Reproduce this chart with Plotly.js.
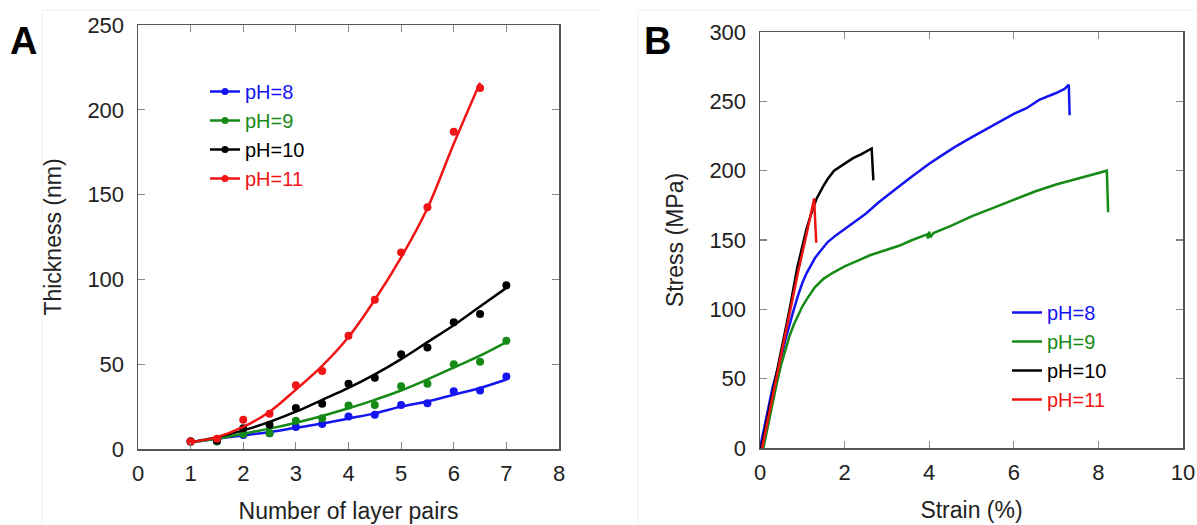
<!DOCTYPE html>
<html>
<head>
<meta charset="utf-8">
<script src="https://cdn.plot.ly/plotly-3.0.1.min.js"></script>
<style>html,body{margin:0;padding:0;background:#fff}#chart{width:1197px;height:525px}</style>
</head>
<body>
<div id="chart"></div>
<script>
// ---------- Panel A: thickness vs number of layer pairs ----------
const layerPairs = [1, 1.5, 2, 2.5, 3, 3.5, 4, 4.5, 5, 5.5, 6, 6.5, 7];
const thickPH8  = [4.4, 4.6, 8.3, 9.3, 13, 14.7, 19.2, 20.2, 26, 27, 34, 34.5, 42.8];
const thickPH9  = [4.4, 4.4, 8.9, 9.3, 16.6, 18.2, 25.6, 26, 37, 38.4, 50, 51.5, 63.8];
const thickPH10 = [4.4, 5, 12.3, 14.3, 24.2, 26.7, 38.4, 42, 55.9, 59.8, 74.7, 79.6, 96.5];
const layerPairsPH11 = [1, 1.5, 2, 2.5, 3, 3.5, 4, 4.5, 5, 5.5, 6, 6.5];
const thickPH11 = [4.4, 6, 17.2, 20.8, 37.6, 46, 66.8, 88, 115.9, 142.6, 187, 212.8];

// fitted curves
const fitX = [1, 1.5, 2, 2.5, 3, 3.5, 4, 4.5, 5, 5.5, 6, 6.5, 7];
const fitPH8  = [4, 6, 8, 10, 12.5, 15, 18, 21, 25, 28, 32, 36, 41];
const fitPH9  = [4, 6, 9, 12, 15.5, 19.5, 24, 29, 34.5, 41, 48, 55, 63];
const fitPH10 = [4, 7, 11, 16, 22, 29, 36, 44, 53, 63, 73, 84, 95];
const fitXPH11 = [1, 1.5, 2, 2.5, 3, 3.5, 4, 4.5, 5, 5.5, 6, 6.5];
const fitPH11 = [4, 7, 13, 22, 35, 49, 66, 88, 113, 142, 180, 216];

// ---------- Panel B: stress-strain ----------
const strainPH8 = [0, 0.1, 0.2, 0.3, 0.4, 0.5, 0.6, 0.7, 0.8, 0.9, 1.0, 1.1, 1.2, 1.3, 1.4, 1.5, 1.6, 1.8, 2.0, 2.2, 2.5, 2.8, 3.0, 3.3, 3.6, 4.0, 4.3, 4.6, 5.0, 5.3, 5.6, 6.0, 6.3, 6.6, 7.0, 7.2, 7.3, 7.32];
const stressPH8 = [0, 15, 30, 44, 55, 65, 78, 90, 100, 110, 119, 126, 132, 137, 141, 145, 148.5, 153.5, 158, 162, 169, 177, 182, 189, 196, 205, 211, 217, 224, 229, 234, 241, 245, 251, 256, 259, 262, 240];
const strainPH9 = [0.08, 0.2, 0.3, 0.4, 0.5, 0.6, 0.7, 0.8, 0.9, 1.0, 1.1, 1.2, 1.3, 1.4, 1.5, 1.7, 2.0, 2.3, 2.6, 3.0, 3.3, 3.6, 3.95, 3.97, 4.0, 4.03, 4.1, 4.5, 5.0, 5.5, 6.0, 6.5, 7.0, 7.5, 8.0, 8.2, 8.23];
const stressPH9 = [0, 18, 33, 47, 60, 71, 81, 89, 96, 102, 107, 112, 116, 119, 122, 126, 131, 135, 139, 143, 146, 150, 154, 151, 156, 152, 155, 160, 167, 173, 179, 185, 190, 194, 198, 200, 170];
const strainPH10 = [0.03, 0.3, 0.5, 0.7, 0.88, 1.0, 1.1, 1.2, 1.3, 1.34, 1.5, 1.6, 1.75, 2.0, 2.2, 2.4, 2.64, 2.68];
const stressPH10 = [0, 40, 70, 100, 130, 146, 158, 168, 176, 180, 189, 194, 200, 205, 209, 212, 216, 193];
const strainPH11 = [0.05, 0.3, 0.5, 0.7, 0.9, 1.1, 1.28, 1.31, 1.33];
const stressPH11 = [0, 38, 68, 97, 127, 154, 180, 160, 148];

const labels = ['pH=8', 'pH=9', 'pH=10', 'pH=11'];
const colors = ['#1414f0', '#168a16', '#000000', '#f01414'];

const pointsX = [layerPairs, layerPairs, layerPairs, layerPairsPH11];
const pointsY = [thickPH8, thickPH9, thickPH10, thickPH11];
const fitsX = [fitX, fitX, fitX, fitXPH11];
const fitsY = [fitPH8, fitPH9, fitPH10, fitPH11];
const strains = [strainPH8, strainPH9, strainPH10, strainPH11];
const stresses = [stressPH8, stressPH9, stressPH10, stressPH11];

const traces = [];
for (let i = 0; i < 4; i++) {
  traces.push({x: fitsX[i], y: fitsY[i], type: 'scatter', mode: 'lines',
    line: {color: colors[i], width: 2.5, shape: 'spline', smoothing: 1},
    xaxis: 'x', yaxis: 'y', showlegend: false, hoverinfo: 'skip'});
  traces.push({x: pointsX[i], y: pointsY[i], type: 'scatter', mode: 'markers',
    marker: {color: colors[i], size: 8},
    xaxis: 'x', yaxis: 'y', showlegend: false});
}
for (let i = 0; i < 4; i++) {
  traces.push({x: [null], y: [null], type: 'scatter', mode: 'lines+markers',
    name: '<span style="color:' + colors[i] + '">' + labels[i] + '</span>',
    line: {color: colors[i], width: 2.5}, marker: {color: colors[i], size: 7},
    xaxis: 'x', yaxis: 'y', legend: 'legend', showlegend: true});
}
for (let i = 0; i < 4; i++) {
  traces.push({x: strains[i], y: stresses[i], type: 'scatter', mode: 'lines',
    name: '<span style="color:' + colors[i] + '">' + labels[i] + '</span>',
    line: {color: colors[i], width: 2.5},
    xaxis: 'x2', yaxis: 'y2', legend: 'legend2', showlegend: true});
}

const W = 1197, H = 525;
const px = v => v / W, py = v => (H - v) / H;
const fontFam = '"Liberation Sans", Arial, Helvetica, sans-serif';
const titleFont = {family: fontFam, size: 23, color: '#222'};

const axisCommon = {
  showline: true, linecolor: '#555', linewidth: 1.5, mirror: 'ticks',
  ticks: 'inside', ticklen: 7, tickcolor: '#888', tickwidth: 1.2,
  showgrid: false, zeroline: false, automargin: false,
  tickfont: {family: fontFam, size: 22, color: '#222'},
  fixedrange: true
};

const layout = {
  width: W, height: H,
  margin: {l: 0, r: 0, t: 0, b: 0},
  paper_bgcolor: '#fff', plot_bgcolor: '#fff',
  font: {family: fontFam, color: '#222'},
  xaxis: Object.assign({}, axisCommon, {domain: [px(138), px(559)], range: [0, 8], dtick: 1, anchor: 'y',
    ticklabelstandoff: 4, title: {text: 'Number of layer pairs', font: titleFont, standoff: 18}}),
  yaxis: Object.assign({}, axisCommon, {domain: [py(449), py(25)], range: [0, 250], dtick: 50, anchor: 'x',
    ticklabelstandoff: 8, title: {text: 'Thickness (nm)', font: titleFont, standoff: 19}}),
  xaxis2: Object.assign({}, axisCommon, {domain: [px(760), px(1183)], range: [0, 10], dtick: 2, anchor: 'y2',
    ticklabelstandoff: 4, title: {text: 'Strain (%)', font: titleFont, standoff: 18}}),
  yaxis2: Object.assign({}, axisCommon, {domain: [py(448), py(32)], range: [0, 300], dtick: 50, anchor: 'x2',
    ticklabelstandoff: 8, title: {text: 'Stress (MPa)', font: titleFont, standoff: 19}}),
  legend: {x: px(205), y: py(72), xanchor: 'left', yanchor: 'top', bgcolor: 'rgba(0,0,0,0)',
    font: {family: fontFam, size: 20}, tracegroupgap: 0, itemclick: false, itemdoubleclick: false},
  legend2: {x: px(1007), y: py(293), xanchor: 'left', yanchor: 'top', bgcolor: 'rgba(0,0,0,0)',
    font: {family: fontFam, size: 20}, tracegroupgap: 0, itemclick: false, itemdoubleclick: false},
  shapes: [
    {type: 'line', xref: 'paper', yref: 'paper', x0: px(42), x1: px(42), y0: py(10), y1: 0, line: {color: '#efefef', width: 1}},
    {type: 'line', xref: 'paper', yref: 'paper', x0: px(42), x1: px(598), y0: py(10), y1: py(10), line: {color: '#efefef', width: 1}},
    {type: 'line', xref: 'paper', yref: 'paper', x0: px(638), x1: px(638), y0: py(10), y1: 0, line: {color: '#efefef', width: 1}},
    {type: 'line', xref: 'paper', yref: 'paper', x0: px(638), x1: px(1197), y0: py(10), y1: py(10), line: {color: '#efefef', width: 1}}
  ],
  annotations: [
    {text: '<b>A</b>', xref: 'paper', yref: 'paper', x: px(23), y: py(41), xanchor: 'center', yanchor: 'middle',
      showarrow: false, font: {family: fontFam, size: 38, color: '#000'}},
    {text: '<b>B</b>', xref: 'paper', yref: 'paper', x: px(657), y: py(41), xanchor: 'center', yanchor: 'middle',
      showarrow: false, font: {family: fontFam, size: 38, color: '#000'}}
  ]
};

Plotly.newPlot('chart', traces, layout, {displayModeBar: false, staticPlot: true});
</script>
</body>
</html>
